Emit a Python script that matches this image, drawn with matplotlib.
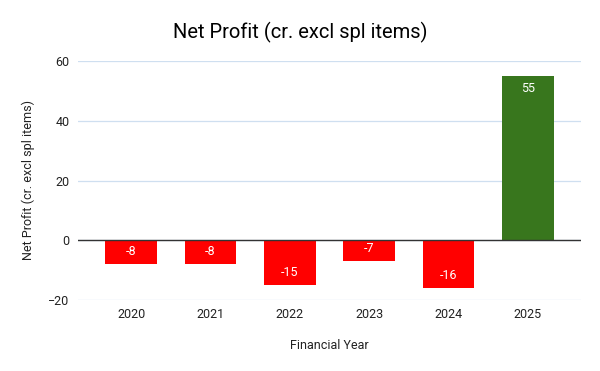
import matplotlib
matplotlib.use("Agg")
import matplotlib.pyplot as plt
import numpy as np

years = ['2020', '2021', '2022', '2023', '2024', '2025']
profit = [-8, -8, -15, -7, -16, 55]
yticks = [-20, 0, 20, 40, 60]

plt.rcParams['font.family'] = ['Roboto', 'DejaVu Sans']

fig = plt.figure(figsize=(6, 3.71), dpi=100)
ax = fig.add_axes([78 / 600, 1 - 300 / 371, (581 - 78) / 600, (300 - 61) / 371])

x = np.arange(len(years))
colors = ['#38761d' if v > 0 else '#ff0000' for v in profit]
ax.bar(x, profit, width=0.65, color=colors, zorder=2)

for xi, v in zip(x, profit):
    off = -9 if v > 0 else 9
    ax.annotate(str(v), (xi, v), xytext=(0, off), textcoords='offset points',
                ha='center', va='center', color='white', fontsize=9, zorder=3)

ax.set_xlim(-0.67, 5.67)
ax.set_ylim(-20, 60)
ax.set_yticks(yticks)
ax.set_xticks(x)
ax.set_xticklabels(years)
ax.yaxis.grid(True, color='#cfdff0', linewidth=0.9, zorder=0)
ax.axhline(0, color='#333333', linewidth=1, zorder=3)
for s in ax.spines.values():
    s.set_visible(False)
ax.tick_params(length=0, labelsize=9, colors='#222222')
ax.tick_params(axis='x', pad=6)
ax.tick_params(axis='y', pad=6)

ax.set_xlabel('Financial Year', fontsize=9, labelpad=13, color='#222222')
ax.set_ylabel('Net Profit (cr. excl spl items)', fontsize=9, labelpad=10, color='#222222')
fig.text(0.5, 1 - 32 / 371, 'Net Profit (cr. excl spl items)', ha='center', va='center',
         fontsize=14.5, color='#000000')

fig.savefig('out.png', dpi=100)
